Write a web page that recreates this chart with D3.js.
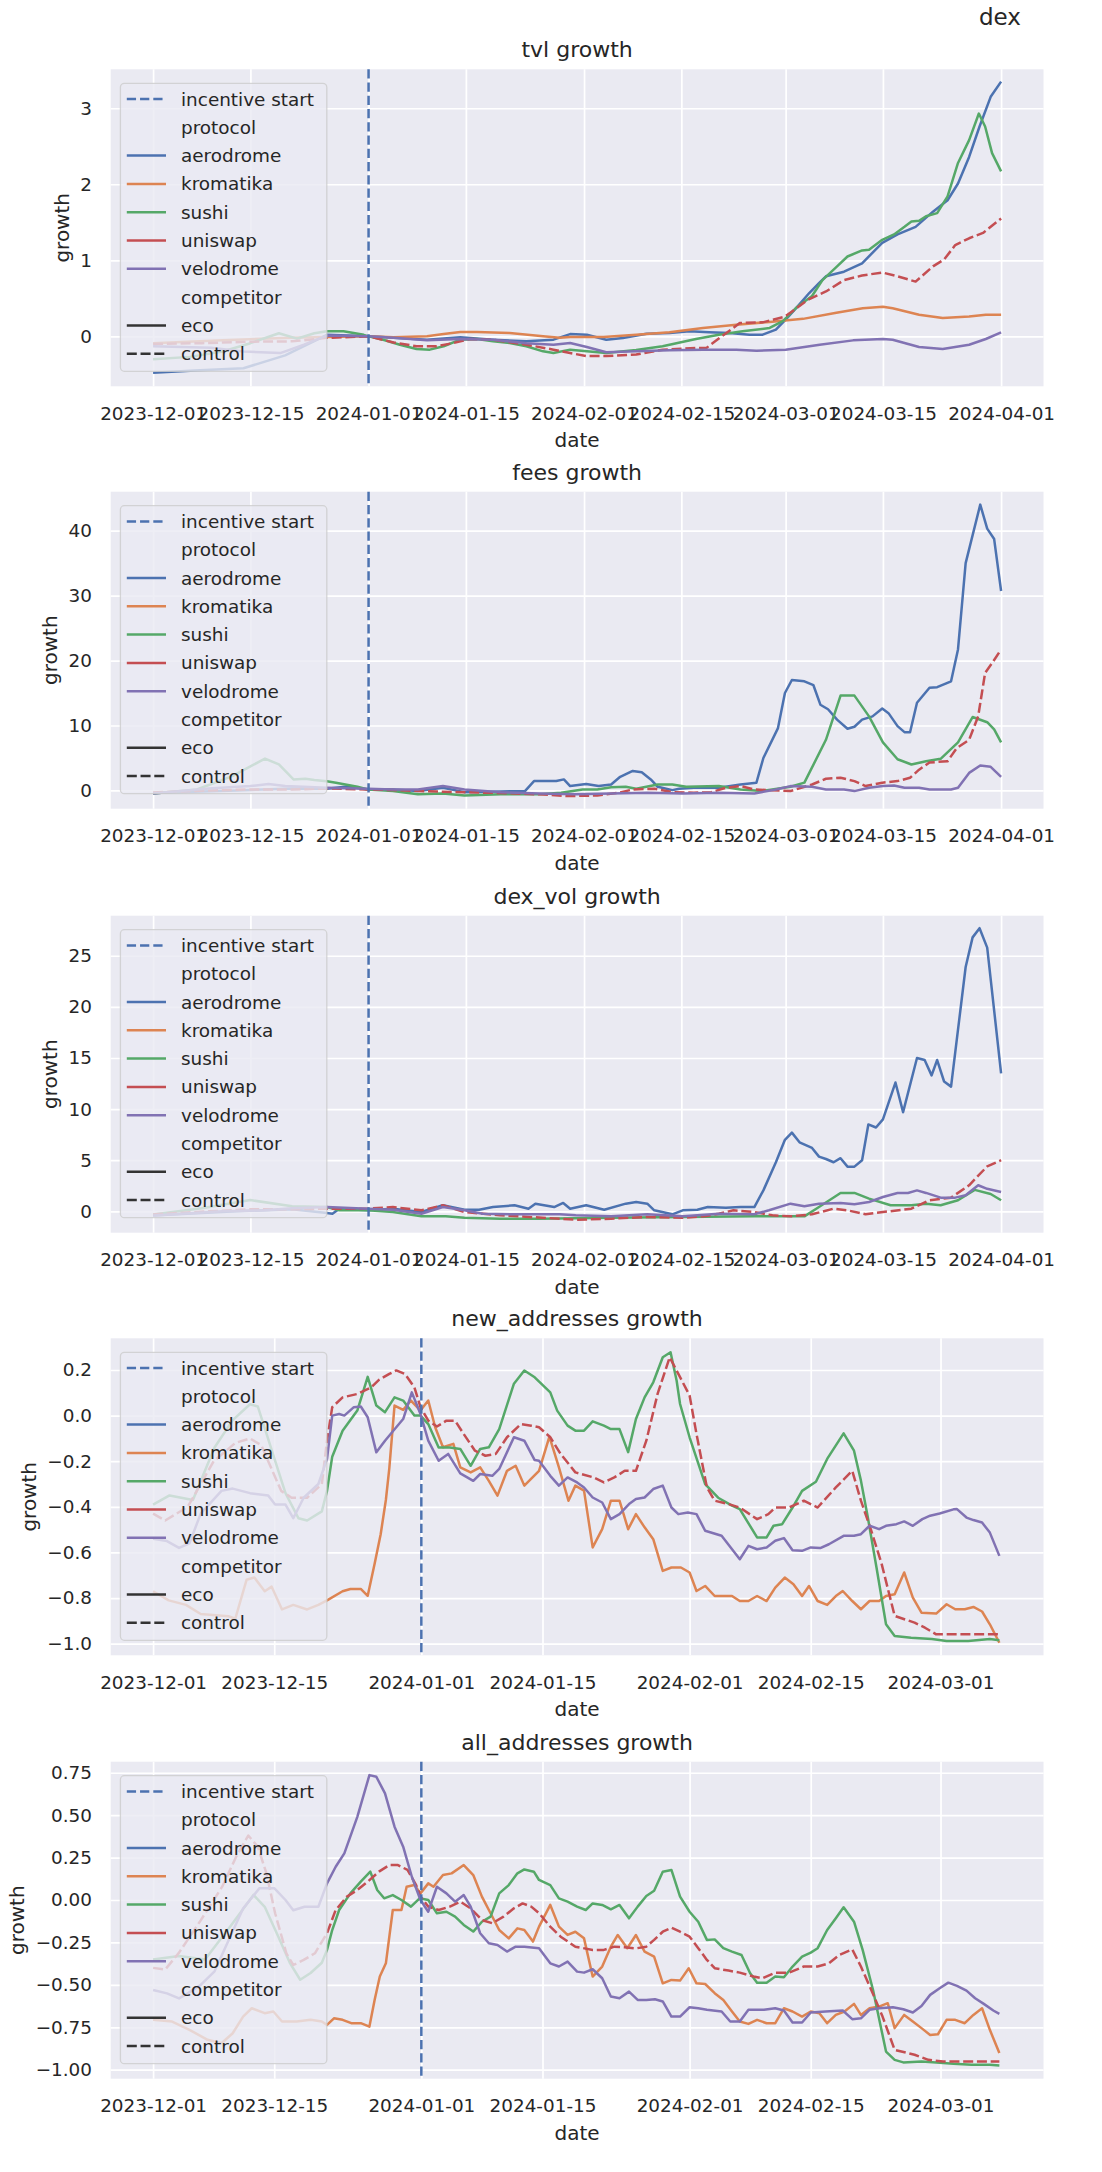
<!DOCTYPE html>
<html><head><meta charset="utf-8">
<script src="https://cdn.jsdelivr.net/npm/d3@7"></script>
<style>
body{margin:0;background:#fff}
svg text{font-family:"DejaVu Sans",sans-serif;fill:#262626}
</style>
</head><body>
<svg id="chart" width="1102" height="2172"></svg>
<script>
// ---------------- DATA (day offset from 2023-12-01, growth value) ----------------
const baseDate = "2023-12-01";
const protocols = ["aerodrome","kromatika","sushi","uniswap","velodrome"];
const protocolColors = ["#4C72B0","#DD8452","#55A868","#C44E52","#8172B3"];
const controlProtocols = ["uniswap"];
const incentiveStart = "2024-01-01";
const xTickLabelsLong = ["2023-12-01","2023-12-15","2024-01-01","2024-01-15","2024-02-01","2024-02-15","2024-03-01","2024-03-15","2024-04-01"];
const xTickLabelsShort = ["2023-12-01","2023-12-15","2024-01-01","2024-01-15","2024-02-01","2024-02-15","2024-03-01"];
const legendLabels = ["incentive start","protocol","aerodrome","kromatika","sushi","uniswap","velodrome","competitor","eco","control"];

// tvl growth
const tvl_aerodrome = [[0,-0.48],[6,-0.45],[13,-0.42],[19,-0.25],[25,0.02],[31,0],[34.6,-0.02],[39.4,-0.044],[44.2,-0.013],[48.9,-0.044],[53.7,-0.066],[57.6,-0.044],[60,0.03],[62.4,0.022],[65.2,-0.044],[67.6,-0.022],[71,0.035],[74.3,0.044],[77.2,0.066],[80,0.053],[82.9,0.044],[85.8,0.022],[87.7,0.022],[89.6,0.088],[91,0.22],[92.7,0.39],[94.4,0.57],[95.8,0.7],[96.8,0.79],[99.4,0.85],[102,0.96],[104.9,1.23],[107.1,1.34],[109.7,1.44],[112.2,1.64],[114.3,1.79],[115.8,2.01],[117.4,2.36],[118.9,2.76],[120.5,3.15],[122,3.35]];
const tvl_kromatika = [[0,-0.09],[10,-0.05],[20,-0.02],[25,-0.01],[31,0],[34.6,-0.013],[39.4,0],[41.8,0.03],[44.2,0.057],[46.6,0.057],[51.3,0.044],[56.1,0],[58.5,-0.02],[60,-0.01],[64.8,-0.01],[69.5,0.022],[74.3,0.053],[79.1,0.11],[83.9,0.153],[88.7,0.19],[93.5,0.23],[98.3,0.31],[102.1,0.37],[105,0.39],[106.4,0.37],[110.2,0.285],[113.6,0.24],[117.4,0.26],[119.8,0.285],[122,0.285]];
const tvl_sushi = [[0,-0.3],[5.3,-0.27],[10,-0.2],[14,-0.09],[18.1,0.04],[20.7,-0.03],[23.2,0.04],[25,0.066],[27.4,0.066],[30.3,0.02],[31,0],[33.1,-0.044],[35.5,-0.11],[37.9,-0.166],[39.8,-0.175],[41.8,-0.13],[44.2,-0.044],[46.6,-0.035],[48.9,-0.066],[51.3,-0.088],[53.7,-0.13],[56.1,-0.197],[57.6,-0.22],[60,-0.175],[62.4,-0.197],[65.2,-0.22],[69.5,-0.18],[73.3,-0.13],[78.1,-0.035],[81.4,0.022],[84.8,0.066],[88.7,0.11],[90.6,0.2],[92.7,0.39],[94.8,0.53],[96.3,0.74],[98.4,0.92],[99.9,1.05],[102,1.13],[103,1.14],[104.9,1.27],[106.6,1.34],[108.1,1.44],[109.1,1.51],[110.2,1.52],[111.2,1.58],[112.8,1.62],[114.3,1.84],[115.8,2.28],[117.4,2.58],[118.8,2.93],[119.7,2.76],[120.7,2.41],[122,2.17]];
const tvl_uniswap = [[0,-0.1],[7,-0.09],[14,-0.07],[20,-0.066],[25,-0.02],[31,0],[34.6,-0.08],[37.9,-0.13],[40.8,-0.13],[43.2,-0.088],[45.6,-0.035],[48.9,-0.044],[53.7,-0.11],[57.6,-0.175],[60,-0.22],[62.4,-0.26],[65.2,-0.26],[69.5,-0.24],[73.3,-0.175],[78.1,-0.153],[79.6,-0.153],[81.5,-0.022],[84.4,0.175],[87.7,0.184],[90.9,0.26],[94.2,0.48],[96.8,0.59],[99.4,0.74],[102,0.8],[104.9,0.84],[107.1,0.79],[109.7,0.72],[112.2,0.92],[113.8,1.01],[115.4,1.2],[117.4,1.29],[119.4,1.36],[122,1.55]];
const tvl_velodrome = [[0,-0.13],[8.3,-0.15],[13,-0.2],[18.3,-0.22],[21.7,-0.11],[25,0.01],[31,0],[34.6,-0.02],[39.4,-0.05],[44.2,-0.035],[48.9,-0.044],[53.7,-0.09],[57.6,-0.11],[60,-0.088],[62.4,-0.14],[65.2,-0.21],[69.5,-0.197],[74.3,-0.184],[79.1,-0.175],[83.9,-0.175],[86.8,-0.19],[91,-0.175],[95.9,-0.11],[100.7,-0.053],[105,-0.035],[106.4,-0.044],[110.2,-0.14],[113.6,-0.166],[117.4,-0.11],[119.8,-0.035],[122,0.053]];

// fees growth
const fees_aerodrome = [[0,-0.4],[12,0],[20,0.3],[25,0.26],[26.3,0.4],[28,0.6],[30.9,0.15],[34.5,0.15],[38.1,-0.1],[41.7,0.4],[44.8,-0.26],[50,-0.15],[53.5,-0.1],[54.8,1.44],[58,1.44],[59.1,1.7],[60,0.67],[62.3,1.0],[64.1,0.67],[65.9,0.92],[67.2,2.1],[69,3.0],[70.3,2.8],[71.6,1.7],[72.6,0.56],[74.7,0.05],[75.7,0.26],[77.8,0.41],[81.4,0.41],[84.5,0.92],[86.8,1.2],[87.8,5.0],[89.9,9.6],[90.9,15.0],[91.9,17.0],[93.7,16.8],[95,16.2],[96,13.2],[97.1,12.5],[98.4,10.9],[99.9,9.5],[100.9,9.8],[102,10.9],[103.5,11.4],[104.9,12.6],[105.8,11.9],[107.1,9.9],[108.1,8.97],[108.9,8.97],[109.9,13.5],[111.7,15.8],[112.8,15.9],[114.8,16.8],[115.8,21.7],[116.9,35],[119,44],[120,40.3],[121,38.7],[122,30.7]];
const fees_sushi = [[0,-0.46],[6.3,0.15],[11.4,2.2],[14,3.7],[16.1,4.9],[18.1,4.0],[20.2,1.7],[21.9,1.8],[23.2,1.6],[25,1.4],[26.3,1.2],[29.4,0.56],[30.9,0.15],[34.5,-0.1],[38.1,-0.6],[41.7,-0.46],[44.8,-0.77],[50,-0.6],[55.6,-0.6],[58.7,-0.36],[61.8,0.15],[63.9,0.15],[65.9,0.5],[68,0.56],[69.5,0.26],[72.6,0.92],[74.7,0.92],[76.7,0.56],[81.4,0.67],[84.5,0.15],[87.6,-0.1],[91.7,0.56],[93.7,1.2],[96.8,7.8],[98.9,14.6],[100.9,14.6],[103,11.4],[105,7.4],[107.1,4.8],[109.1,4.0],[111.2,4.5],[113.3,4.87],[115.8,7.4],[117.9,11.3],[120,10.5],[121,9.4],[122,7.4]];
const fees_uniswap = [[0,-0.3],[8,0],[14,0.15],[20,0.15],[25,0.3],[30.9,0.15],[34.5,0.05],[41.7,-0.2],[50,-0.4],[55.6,-0.6],[59.8,-0.87],[63.9,-0.77],[67,-0.36],[69,0.15],[72.1,0.26],[74.7,-0.26],[77.8,-0.36],[80.3,-0.26],[82.4,0.41],[84.5,0.67],[86.5,0.15],[91.7,-0.1],[94.8,0.92],[96.8,1.8],[98.9,1.95],[100.9,1.44],[102.5,0.67],[104.9,1.2],[107.1,1.44],[108.9,1.95],[110.2,3.2],[111.7,4.3],[114.3,4.5],[115.6,6.5],[117.4,7.8],[118.7,11.4],[119.7,18.1],[120.7,19.6],[122,21.7]];
const fees_velodrome = [[0,-0.46],[8,0.3],[14,0.67],[16.6,1.0],[19,0.67],[25,0.4],[30.9,0.26],[34.5,0.15],[38.1,0.15],[41.7,0.67],[44.8,0.15],[50,-0.26],[55.6,-0.46],[60.8,-0.6],[65.9,-0.46],[71.1,-0.36],[76.2,-0.46],[81.4,-0.36],[86.5,-0.46],[89.6,0.15],[91.7,0.67],[94.8,0.56],[96.8,0.15],[99.4,0.15],[100.9,-0.1],[103,0.41],[105,0.67],[106.6,0.77],[108.1,0.41],[110.2,0.41],[111.7,0.15],[114.8,0.15],[115.8,0.41],[117.4,2.7],[119,3.85],[120.5,3.64],[122,2.1]];

// dex_vol growth
const dex_aerodrome = [[0,-0.4],[12,0],[20,0.2],[25,-0.16],[25.8,-0.23],[26.8,0.26],[30.9,0.1],[34.5,0.26],[38.6,-0.07],[41.7,0.59],[44.8,0.16],[46.9,0.16],[48.9,0.42],[52,0.59],[54,0.26],[55,0.75],[57.7,0.42],[59,0.82],[60,0.26],[62.3,0.59],[64.9,0.16],[68,0.75],[69.5,0.91],[71.1,0.75],[72.1,0.1],[74.7,-0.29],[76.2,0.1],[78.3,0.16],[79.8,0.42],[82.4,0.36],[84.5,0.42],[86.5,0.42],[87.8,2.05],[89.6,4.8],[90.9,7.0],[91.9,7.7],[93,6.75],[94.8,6.2],[95.8,5.35],[96.8,5.12],[97.9,4.8],[98.9,5.2],[99.9,4.37],[100.9,4.37],[102,5.0],[102.9,8.5],[104,8.2],[105,9.0],[106.8,12.6],[107.9,9.7],[109.9,15.0],[111,14.8],[112,13.3],[112.8,14.8],[113.8,12.7],[114.8,12.2],[116.9,23.9],[117.9,26.8],[118.9,27.7],[120,25.8],[122,13.5]];
const dex_sushi = [[0,-0.3],[7,0.3],[14,1.1],[20,0.5],[25,0.42],[26.8,0.1],[30.9,0.1],[34.5,-0.07],[38.6,-0.49],[42.1,-0.49],[44.8,-0.62],[49.9,-0.72],[55.6,-0.72],[65.9,-0.62],[76.2,-0.55],[86.5,-0.49],[93.7,-0.49],[95.8,0.42],[98.9,1.8],[100.9,1.8],[103,1.24],[106.1,0.59],[109.1,0.59],[111.2,0.75],[113.3,0.59],[115.8,1.08],[118.2,2.1],[120.5,1.7],[122,1.08]];
const dex_uniswap = [[0,-0.3],[8,0],[14,0.2],[20,0.2],[25,0.26],[30.9,0.26],[34.5,0.42],[38.6,0.1],[41.7,0.59],[44.8,-0.07],[49.9,-0.39],[58.5,-0.72],[60.8,-0.82],[65.9,-0.72],[71.1,-0.55],[76.2,-0.62],[79.3,-0.49],[81.4,-0.23],[83.5,0.1],[86.5,-0.07],[89.1,-0.39],[91.7,-0.49],[94.8,-0.29],[97.9,0.26],[99.9,0.1],[102.5,-0.29],[105,-0.07],[109.1,0.26],[111.7,1.08],[114.8,1.34],[117.4,2.55],[120,4.4],[122,5.0]];
const dex_velodrome = [[0,-0.4],[10,0],[16,0.1],[20,0.3],[25,0.42],[30.9,0.26],[34.5,0.16],[38.6,-0.23],[41.7,0.42],[44.8,0.1],[47.4,-0.23],[52.5,-0.29],[58.5,-0.29],[60.8,-0.39],[65.9,-0.49],[71.1,-0.29],[76.2,-0.49],[81.4,-0.23],[86.5,-0.29],[88.6,0.1],[91.7,0.75],[93.7,0.49],[95.8,0.75],[98.9,0.82],[100.9,0.69],[103,0.91],[105,1.4],[107.1,1.8],[108.6,1.8],[109.9,2.05],[111.2,1.8],[113.3,1.34],[115.4,1.34],[116.9,1.57],[118.7,2.55],[120,2.2],[122,1.9]];

// new_addresses growth
const new_kromatika = [[0,-0.77],[1.8,-0.81],[3.8,-0.83],[5.5,-0.87],[8.7,-0.88],[9.5,-0.89],[10.8,-0.72],[11.7,-0.71],[12.9,-0.77],[13.7,-0.75],[14.9,-0.85],[16.2,-0.83],[17.8,-0.85],[19.1,-0.83],[20.1,-0.81],[21.9,-0.77],[22.8,-0.76],[24,-0.76],[24.8,-0.79],[25.6,-0.65],[26.3,-0.52],[26.9,-0.37],[27.3,-0.23],[27.9,0.044],[28.9,0.025],[29.8,0.066],[30.9,0.022],[31.8,0.066],[32.6,-0.051],[33.5,-0.139],[34.7,-0.124],[35.5,-0.227],[36.7,-0.249],[37.8,-0.227],[38.8,-0.286],[39.8,-0.351],[40.9,-0.242],[41.9,-0.22],[42.9,-0.307],[44.6,-0.242],[45.8,-0.092],[46.9,-0.227],[48,-0.373],[48.8,-0.307],[49.8,-0.329],[50.8,-0.578],[51.9,-0.498],[52.9,-0.373],[53.9,-0.373],[54.9,-0.498],[55.8,-0.432],[56.8,-0.49],[57.8,-0.542],[58.9,-0.681],[59.9,-0.666],[61,-0.666],[62,-0.688],[62.8,-0.769],[63.8,-0.747],[64.9,-0.791],[66.9,-0.791],[67.8,-0.813],[68.8,-0.813],[69.8,-0.791],[70.9,-0.813],[71.9,-0.754],[73,-0.71],[74,-0.739],[75,-0.791],[75.8,-0.747],[76.8,-0.813],[77.9,-0.83],[78.9,-0.791],[79.7,-0.769],[80.8,-0.813],[81.8,-0.849],[82.8,-0.813],[83.9,-0.813],[84.7,-0.791],[85.7,-0.783],[86.8,-0.688],[87.8,-0.798],[88.8,-0.864],[90.5,-0.868],[91.7,-0.827],[92.7,-0.849],[93.8,-0.849],[94.8,-0.839],[95.8,-0.859],[96.7,-0.915],[97.8,-0.996]];
const new_sushi = [[0,-0.39],[1.9,-0.35],[4.6,-0.37],[7.1,-0.14],[9.2,-0.02],[11.2,0.05],[12.1,0.04],[13.7,-0.15],[15.3,-0.34],[16.8,-0.45],[17.8,-0.46],[19.5,-0.42],[20.1,-0.33],[20.7,-0.18],[21.9,-0.066],[23.6,0.022],[24.8,0.17],[25.8,0.044],[26.8,0.015],[27.9,0.08],[28.9,0.066],[30.2,0],[30.9,0],[31.8,-0.037],[33,-0.14],[34.3,-0.14],[35.5,-0.146],[36.7,-0.22],[37.8,-0.146],[38.8,-0.139],[40,-0.059],[41.7,0.14],[42.9,0.198],[44.1,0.168],[45.9,0.102],[46.7,0.022],[47.9,-0.044],[48.8,-0.066],[49.8,-0.066],[50.8,-0.025],[52.1,-0.044],[52.9,-0.059],[53.9,-0.059],[54.9,-0.16],[55.8,-0.015],[56.8,0.08],[57.8,0.146],[58.9,0.256],[59.8,0.278],[60.5,0.154],[60.9,0.051],[62,-0.095],[63.8,-0.3],[65.3,-0.36],[66.9,-0.395],[67.8,-0.41],[69.8,-0.534],[70.9,-0.534],[71.7,-0.483],[72.7,-0.476],[73.9,-0.403],[75,-0.33],[76.6,-0.29],[77.9,-0.19],[79.8,-0.078],[81,-0.154],[81.8,-0.285],[82.6,-0.447],[83.6,-0.666],[84.7,-0.915],[85.7,-0.966],[87.6,-0.974],[90,-0.98],[91.7,-0.988],[94.2,-0.988],[96.7,-0.98],[97.8,-0.985]];
const new_uniswap = [[0,-0.43],[1.4,-0.46],[4,-0.4],[7,-0.2],[9.5,-0.12],[11.2,-0.1],[12.5,-0.13],[14.8,-0.33],[16,-0.36],[17.8,-0.36],[19.5,-0.3],[20.1,-0.11],[20.7,0.037],[21.9,0.08],[23.6,0.095],[25.2,0.124],[26.1,0.157],[27.3,0.183],[28.1,0.198],[29.1,0.183],[30.2,0.124],[30.9,0.037],[31.8,-0.022],[32.8,-0.048],[33.9,-0.022],[34.9,-0.022],[35.9,-0.081],[37.2,-0.154],[38.4,-0.176],[39.6,-0.168],[40.9,-0.095],[42.5,-0.037],[43.7,-0.044],[44.6,-0.051],[45.9,-0.095],[47.1,-0.168],[48.8,-0.249],[50.9,-0.271],[52.1,-0.293],[53.3,-0.271],[54.5,-0.242],[55.8,-0.242],[57,-0.11],[58.3,0.095],[59.7,0.256],[60.7,0.183],[62,0.088],[62.8,-0.081],[64,-0.315],[64.9,-0.373],[66.5,-0.388],[67.8,-0.403],[69.8,-0.454],[71.1,-0.432],[71.9,-0.403],[73.5,-0.403],[75.2,-0.373],[76.8,-0.403],[78.9,-0.315],[80.8,-0.242],[81.8,-0.373],[83,-0.505],[84.2,-0.651],[85.7,-0.878],[88,-0.908],[89.2,-0.93],[90.5,-0.959],[92.1,-0.959],[97.8,-0.959]];
const new_velodrome = [[0,-0.54],[1.6,-0.55],[3,-0.58],[4.2,-0.56],[5.5,-0.43],[7.9,-0.33],[9.2,-0.32],[11.2,-0.34],[13.3,-0.35],[14.1,-0.39],[15.3,-0.39],[16.2,-0.45],[17.4,-0.36],[19.1,-0.3],[20.1,-0.19],[20.7,0],[21.5,0.007],[22.1,0],[23.2,0.037],[24,0.04],[24.8,-0.007],[25.8,-0.161],[26.8,-0.11],[28.1,-0.051],[28.9,-0.015],[29.9,0.102],[30.9,0.007],[31.8,-0.11],[33,-0.198],[34.1,-0.168],[35.5,-0.253],[37,-0.286],[37.8,-0.256],[39.2,-0.264],[40,-0.234],[41.7,-0.095],[42.9,-0.11],[44.1,-0.195],[44.6,-0.198],[45.9,-0.264],[46.9,-0.307],[47.9,-0.271],[49,-0.293],[49.8,-0.315],[50.8,-0.359],[51.9,-0.381],[52.9,-0.454],[53.9,-0.432],[55,-0.388],[55.8,-0.366],[56.8,-0.359],[57.8,-0.322],[58.9,-0.307],[59.9,-0.403],[60.7,-0.432],[61.8,-0.425],[62.8,-0.432],[63.8,-0.505],[65.7,-0.527],[67.8,-0.63],[68.8,-0.571],[69.8,-0.586],[70.9,-0.578],[71.9,-0.549],[72.9,-0.537],[73.9,-0.59],[75,-0.593],[76,-0.578],[77.1,-0.581],[78.1,-0.564],[79.8,-0.527],[81,-0.527],[81.8,-0.52],[82.8,-0.483],[83.9,-0.498],[84.7,-0.483],[85.9,-0.476],[86.8,-0.464],[87.8,-0.483],[88.9,-0.454],[89.8,-0.439],[90.9,-0.429],[92.5,-0.411],[92.9,-0.41],[94,-0.447],[94.8,-0.458],[95.8,-0.469],[96.7,-0.513],[97.8,-0.615]];

// all_addresses growth
const all_kromatika = [[0,-0.706],[2.2,-0.716],[4.2,-0.765],[6.3,-0.824],[7.9,-0.844],[9.2,-0.785],[10.4,-0.687],[11.4,-0.638],[12.9,-0.667],[13.9,-0.657],[14.9,-0.716],[16.6,-0.716],[18.2,-0.706],[19.5,-0.716],[20.1,-0.736],[20.9,-0.697],[21.9,-0.706],[22.9,-0.726],[24,-0.726],[25,-0.746],[25.6,-0.589],[26.2,-0.451],[26.9,-0.373],[27.7,-0.059],[28.7,-0.059],[29.3,0.078],[30.2,0.088],[30.9,0.039],[31.8,0.098],[32.4,0.078],[33.5,0.147],[34.5,0.157],[35.9,0.206],[37,0.147],[38,0.02],[39,-0.078],[40,-0.177],[41.1,-0.226],[42.1,-0.167],[42.9,-0.177],[43.9,-0.245],[44.6,-0.157],[45.9,-0.029],[46.9,-0.157],[47.9,-0.206],[48.8,-0.187],[49.8,-0.226],[50.8,-0.451],[51.9,-0.392],[52.9,-0.275],[53.7,-0.206],[54.8,-0.284],[55.8,-0.206],[56.8,-0.304],[57.9,-0.334],[58.9,-0.491],[59.9,-0.471],[60.9,-0.475],[61.9,-0.402],[62.8,-0.491],[63.8,-0.495],[64.9,-0.549],[65.9,-0.589],[66.9,-0.657],[67.8,-0.716],[68.8,-0.73],[69.8,-0.706],[70.9,-0.726],[71.9,-0.726],[72.9,-0.638],[73.9,-0.657],[75,-0.687],[76,-0.657],[77,-0.667],[77.9,-0.726],[78.9,-0.677],[79.9,-0.657],[81,-0.612],[81.8,-0.677],[82.8,-0.638],[83.9,-0.628],[84.9,-0.608],[85.7,-0.755],[86.8,-0.677],[87.8,-0.716],[88.8,-0.755],[89.8,-0.795],[90.7,-0.791],[91.7,-0.706],[92.7,-0.706],[93.8,-0.726],[94.8,-0.677],[95.8,-0.638],[96.7,-0.765],[97.8,-0.902]];
const all_sushi = [[0,-0.35],[3,-0.33],[6,-0.35],[9,-0.15],[11.6,0.03],[12.9,-0.04],[14.5,-0.22],[15.8,-0.37],[17,-0.47],[18.2,-0.43],[19.5,-0.37],[20.1,-0.294],[20.7,-0.177],[21.5,-0.059],[22.8,0.039],[24,0.108],[25.1,0.167],[25.9,0.059],[26.7,0.01],[27.7,0.029],[28.7,0],[29.8,-0.039],[30.8,0.01],[31.8,0],[32.8,-0.078],[33.9,-0.069],[34.9,-0.098],[35.9,-0.147],[37,-0.186],[38,-0.128],[39,-0.098],[40,0.039],[41.1,0.088],[42.1,0.157],[42.9,0.18],[44,0.167],[44.6,0.118],[45.9,0.088],[46.9,0.01],[47.9,-0.01],[49,-0.039],[50,-0.059],[50.8,-0.02],[51.9,-0.029],[52.9,-0.055],[53.9,-0.029],[55,-0.108],[56,-0.039],[57,0.024],[57.9,0.055],[58.9,0.167],[59.9,0.177],[60.9,0.02],[62,-0.069],[63,-0.128],[64,-0.235],[64.9,-0.232],[65.9,-0.284],[66.9,-0.304],[68,-0.324],[69,-0.432],[69.8,-0.487],[70.9,-0.487],[71.9,-0.451],[72.9,-0.455],[73.9,-0.392],[75,-0.334],[76,-0.31],[76.8,-0.284],[77.9,-0.177],[78.9,-0.108],[79.8,-0.043],[81,-0.128],[82,-0.294],[83.2,-0.53],[84.7,-0.893],[85.7,-0.942],[86.7,-0.957],[88.8,-0.952],[90.5,-0.957],[92.5,-0.965],[94.6,-0.971],[96.7,-0.971],[97.8,-0.975]];
const all_uniswap = [[0,-0.4],[1.4,-0.41],[3,-0.31],[5.5,-0.12],[8,0.08],[9.6,0.255],[11,0.38],[12.1,0.314],[13.1,0.157],[14.1,-0.078],[15.4,-0.314],[16.2,-0.383],[17.4,-0.353],[18.7,-0.314],[20.1,-0.196],[21.1,-0.059],[22.4,0.02],[23.6,0.059],[24.8,0.108],[26.1,0.167],[27.3,0.206],[28.3,0.206],[29.4,0.177],[30.4,0.088],[30.9,0.02],[31.8,-0.039],[33,-0.059],[34.3,-0.039],[35.5,-0.01],[36.7,-0.049],[38,-0.118],[39.2,-0.137],[40.5,-0.098],[41.7,-0.049],[42.7,-0.02],[43.7,-0.039],[44.6,-0.078],[45.9,-0.157],[47.1,-0.216],[48.8,-0.275],[50.8,-0.294],[52.1,-0.294],[53.3,-0.275],[54.5,-0.279],[55.8,-0.285],[57,-0.275],[57.9,-0.235],[58.9,-0.187],[59.9,-0.163],[60.9,-0.187],[62,-0.216],[63,-0.284],[64,-0.353],[64.9,-0.402],[66.5,-0.416],[67.8,-0.428],[69.4,-0.451],[70.4,-0.461],[71.9,-0.428],[73.5,-0.428],[75.2,-0.392],[76.8,-0.392],[78.1,-0.373],[79.3,-0.324],[80.8,-0.291],[81.8,-0.392],[83,-0.53],[84.3,-0.687],[85.7,-0.883],[88,-0.912],[89.6,-0.942],[91.3,-0.952],[97.8,-0.952]];
const all_velodrome = [[0,-0.53],[1.6,-0.55],[3,-0.58],[4,-0.55],[5.5,-0.5],[7.1,-0.42],[8.7,-0.24],[10.4,-0.05],[12.3,0.07],[14,0.07],[15.3,0],[16.2,-0.06],[17.5,-0.04],[19.1,-0.04],[20.1,0.098],[21.1,0.196],[22.1,0.275],[23.6,0.49],[25,0.736],[25.8,0.726],[26.8,0.628],[27.9,0.432],[28.9,0.314],[29.9,0.137],[30.9,0],[31.8,-0.069],[32.8,0.078],[33.9,0.039],[34.9,-0.01],[35.9,0.029],[36.7,-0.039],[37.8,-0.196],[38.8,-0.255],[39.8,-0.265],[40.9,-0.304],[41.9,-0.275],[42.9,-0.275],[44.6,-0.284],[45.9,-0.373],[46.9,-0.392],[47.9,-0.363],[49,-0.422],[49.8,-0.428],[50.8,-0.408],[51.9,-0.461],[52.9,-0.569],[53.9,-0.579],[55,-0.54],[56,-0.589],[57,-0.589],[58,-0.585],[58.9,-0.598],[59.9,-0.687],[60.9,-0.687],[62,-0.632],[63,-0.638],[64,-0.647],[65.7,-0.657],[66.7,-0.716],[67.8,-0.716],[68.8,-0.647],[70.6,-0.647],[71.9,-0.638],[72.9,-0.651],[73.9,-0.722],[75,-0.722],[76,-0.663],[77.7,-0.657],[79.7,-0.651],[80.8,-0.702],[81.8,-0.697],[82.8,-0.647],[83.9,-0.638],[85.5,-0.632],[86.7,-0.644],[87.8,-0.663],[88.8,-0.624],[89.8,-0.559],[90.9,-0.52],[91.9,-0.487],[92.9,-0.506],[94,-0.534],[95,-0.579],[96,-0.612],[97.1,-0.651],[97.8,-0.671]];

const panelTitles = ["tvl growth","fees growth","dex_vol growth","new_addresses growth","all_addresses growth"];
const panelDays = [122,122,122,98,98];
const yDomains = [[-0.657,3.512],[-2.81,45.99],[-2.09,28.92],[-1.051,0.339],[-1.053,0.815]];
const yTickValues = [[0,1,2,3],[0,10,20,30,40],[0,5,10,15,20,25],[-1.0,-0.8,-0.6,-0.4,-0.2,0.0,0.2],[-1.0,-0.75,-0.5,-0.25,0,0.25,0.5,0.75]];
const yTickFormats = ["d","d","d",".1f",".2f"];
const panelSeries = [
  {aerodrome:tvl_aerodrome,kromatika:tvl_kromatika,sushi:tvl_sushi,uniswap:tvl_uniswap,velodrome:tvl_velodrome},
  {aerodrome:fees_aerodrome,sushi:fees_sushi,uniswap:fees_uniswap,velodrome:fees_velodrome},
  {aerodrome:dex_aerodrome,sushi:dex_sushi,uniswap:dex_uniswap,velodrome:dex_velodrome},
  {kromatika:new_kromatika,sushi:new_sushi,uniswap:new_uniswap,velodrome:new_velodrome},
  {kromatika:all_kromatika,sushi:all_sushi,uniswap:all_uniswap,velodrome:all_velodrome}
];

// ---------------- LAYOUT ----------------
const svg = d3.select("#chart");
svg.append("rect").attr("width",1102).attr("height",2172).attr("fill","#fff");
const L = 110.7, R = 1043.5, H = 317;
const panelTops = [69.3, 491.7, 915.7, 1338.3, 1761.7];
const parseDate = d3.utcParse("%Y-%m-%d");
const base = parseDate(baseDate);
const dayToDate = d => new Date(base.getTime() + d * 864e5);
const colorOf = p => protocolColors[protocols.indexOf(p)];
const LW = 2.5;
const FS_TICK = 18.4, FS_LABEL = 20, FS_TITLE = 22;

svg.append("text").attr("x",1000).attr("y",25).attr("text-anchor","middle")
  .style("font-size","23px").text("dex");

panelTitles.forEach((title, i) => {
  const top = panelTops[i];
  const days = panelDays[i];
  const x = d3.scaleUtc().domain([dayToDate(-0.05*days), dayToDate(1.05*days)]).range([L, R]);
  const y = d3.scaleLinear().domain(yDomains[i]).range([top + H, top]);
  const g = svg.append("g");
  const xTicks = (days > 100 ? xTickLabelsLong : xTickLabelsShort).map(parseDate);

  g.append("rect").attr("x",L).attr("y",top).attr("width",R-L).attr("height",H).attr("fill","#EAEAF2");

  // grid
  const gx = g.append("g").attr("transform",`translate(0,${top+H})`)
    .call(d3.axisBottom(x).tickValues(xTicks).tickSize(-H).tickFormat(""));
  const gy = g.append("g").attr("transform",`translate(${L},0)`)
    .call(d3.axisLeft(y).tickValues(yTickValues[i]).tickSize(-(R-L)).tickFormat(""));
  [gx, gy].forEach(a => {
    a.select(".domain").remove();
    a.selectAll("line").attr("stroke","#fff").attr("stroke-width",1.7);
  });

  // tick labels
  const ax = g.append("g").attr("transform",`translate(0,${top+H})`)
    .call(d3.axisBottom(x).tickValues(xTicks).tickSize(0).tickPadding(20.2).tickFormat(d3.utcFormat("%Y-%m-%d")));
  const ay = g.append("g").attr("transform",`translate(${L},0)`)
    .call(d3.axisLeft(y).tickValues(yTickValues[i]).tickSize(0).tickPadding(18.7).tickFormat(d3.format(yTickFormats[i])));
  [ax, ay].forEach(a => {
    a.select(".domain").remove();
    a.selectAll("line").remove();
    a.selectAll("text").attr("font-family",null).attr("font-size",null)
      .style("font-size",FS_TICK+"px").style("fill","#262626");
  });

  // axis labels and title
  g.append("text").attr("x",(L+R)/2).attr("y",top+H+61).attr("text-anchor","middle")
    .style("font-size",FS_LABEL+"px").text("date");
  const bb = ay.node().getBBox();
  g.append("text").attr("transform",`translate(${L + bb.x - 18.5},${top+H/2}) rotate(-90)`)
    .attr("text-anchor","middle").attr("dominant-baseline","central")
    .style("font-size",FS_LABEL+"px").text("growth");
  g.append("text").attr("x",(L+R)/2).attr("y",top-12).attr("text-anchor","middle")
    .style("font-size",FS_TITLE+"px").text(title);

  // lines
  const line = d3.line().x(d => x(dayToDate(d[0]))).y(d => y(d[1]));
  protocols.forEach(p => {
    const data = panelSeries[i][p];
    if (!data) return;
    const dashed = controlProtocols.includes(p);
    g.append("path").datum(data).attr("d", line)
      .attr("fill","none").attr("stroke",colorOf(p)).attr("stroke-width",LW)
      .attr("stroke-linejoin","round")
      .attr("stroke-dasharray", dashed ? `${4*LW},${1.5*LW}` : null);
  });

  // incentive start line
  const xi = x(parseDate(incentiveStart));
  g.append("line").attr("x1",xi).attr("x2",xi).attr("y1",top).attr("y2",top+H)
    .attr("stroke","#4C72B0").attr("stroke-width",LW).attr("stroke-dasharray",`${3.7*LW},${1.6*LW}`);

  // legend
  const lg = g.append("g");
  const lx = 120.4, ly = top + 14, rowH = 28.3;
  lg.append("rect").attr("x",lx).attr("y",ly).attr("width",206.4).attr("height",288)
    .attr("rx",4).attr("fill","#EAEAF2").attr("fill-opacity",0.8)
    .attr("stroke","#cccccc").attr("stroke-opacity",0.8).attr("stroke-width",1.3);
  legendLabels.forEach((lab, k) => {
    const cy = ly + 15.7 + k*rowH;
    let color = null, dash = null;
    if (k === 0) { color = "#4C72B0"; dash = `${3.7*LW},${1.6*LW}`; }
    else if (protocols.includes(lab)) color = colorOf(lab);
    else if (lab === "eco") color = "#333333";
    else if (lab === "control") { color = "#333333"; dash = `${4*LW},${1.5*LW}`; }
    if (color) {
      lg.append("line").attr("x1",126.8).attr("x2",166).attr("y1",cy).attr("y2",cy)
        .attr("stroke",color).attr("stroke-width",LW).attr("stroke-dasharray",dash);
    }
    lg.append("text").attr("x",181).attr("y",cy).attr("dominant-baseline","central")
      .style("font-size",FS_TICK+"px").text(lab);
  });
});
</script>
</body></html>
